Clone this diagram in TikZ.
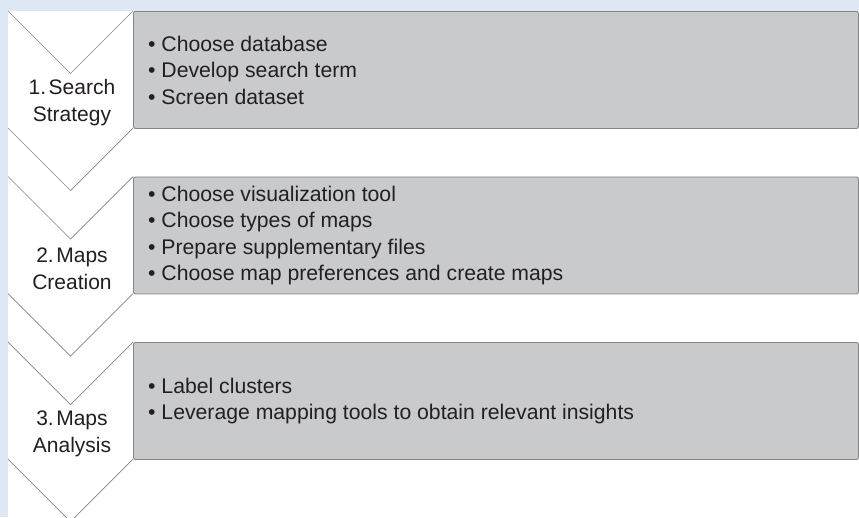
\documentclass[tikz,border=0pt]{standalone}
\usepackage{fontspec}
\setmainfont{Liberation Sans}
\definecolor{pageblue}{HTML}{DDE8F4}
\definecolor{boxgray}{HTML}{C9CACC}
\definecolor{edgegray}{HTML}{858585}
\definecolor{inkgray}{HTML}{231F20}

\begin{document}
\begin{tikzpicture}[x=1pt,y=-1pt]
        \tikzstyle{stepbox}=[rectangle,draw=edgegray,fill=boxgray,line width=0.9pt,rounded corners=2pt,minimum width=725pt,minimum height=117pt,anchor=north west,inner sep=0pt]
        \tikzstyle{items}=[anchor=west,align=left,text=inkgray,font=\fontsize{21.2}{26.5}\selectfont,inner sep=0pt]
        \tikzstyle{stage}=[align=center,text=inkgray,font=\fontsize{21}{27}\selectfont,inner sep=0pt]
        \tikzstyle{chevron}=[draw=edgegray,line width=0.7pt]
        \fill[pageblue] (0,0) rectangle (859,517);
        \fill[white] (8,11) rectangle (859,517);
        \useasboundingbox (0,0) rectangle (859,517);
        \foreach \i/\name/\list in {
            0/{1.\kern0.12em Search\\Strategy}/{\textbullet\ Choose database\\\textbullet\ Develop search term\\\textbullet\ Screen dataset},
            1/{2.\kern0.12em Maps\\Creation}/{\textbullet\ Choose visualization tool\\\textbullet\ Choose types of maps\\\textbullet\ Prepare supplementary files\\\textbullet\ Choose map preferences and create maps},
            2/{3.\kern0.12em Maps\\Analysis}/{\textbullet\ Label clusters\\\textbullet\ Leverage mapping tools to obtain relevant insights}}{
            \pgfmathsetmacro{\ytop}{11+165.5*\i}
            \draw[chevron] (8,\ytop) -- (70.5,\ytop+62.5) -- (133,\ytop);
            \draw[chevron] (8,\ytop+117) -- (70.5,\ytop+179.5) -- (133,\ytop+117);
            \node[stepbox] (box\i) at (133,\ytop) {};
            \node[items] (list\i) at ([xshift=15pt]box\i.west) {\list};
            \node[stage] (stage\i) at (72,\ytop+92) {\name};
        }
\end{tikzpicture}
\end{document}
